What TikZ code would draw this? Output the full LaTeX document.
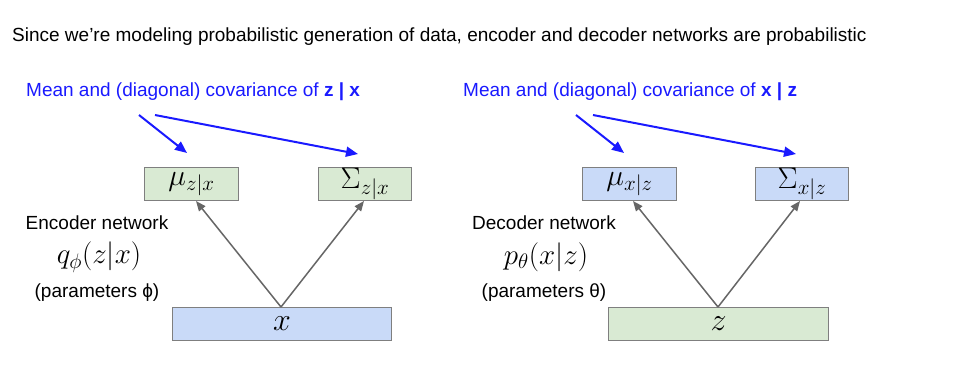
\RequirePackage{fix-cm}
\documentclass[tikz,border=0pt]{standalone}
\usepackage{fontspec}
\setmainfont{Liberation Sans}
\usetikzlibrary{arrows.meta}
\DeclareMathSizes{30}{30}{21}{15}
\DeclareMathSizes{29}{29}{21}{15}
\DeclareMathSizes{32}{32}{24}{18}
\definecolor{boxgreen}{HTML}{D9EAD3}
\definecolor{boxblue}{HTML}{C9DAF8}
\definecolor{boxedge}{HTML}{7F7F7F}
\definecolor{lblblue}{HTML}{1A1AFF}
\definecolor{arrgray}{HTML}{666666}
\begin{document}
\begin{tikzpicture}[x=1pt,y=-1pt,
  gbox/.style={draw=boxedge,line width=1pt,fill=boxgreen,inner sep=0pt,anchor=north west},
  bbox/.style={draw=boxedge,line width=1pt,fill=boxblue,inner sep=0pt,anchor=north west},
  bluearr/.style={draw=lblblue,line width=2pt,-{Triangle[length=12pt,width=10pt]}},
  grayarr/.style={draw=arrgray,line width=1.5pt,-{Triangle[length=10pt,width=8pt]}},
  txt/.style={inner sep=0pt,font=\fontsize{19}{23}\selectfont},
  bl/.style={txt,text=lblblue,anchor=west},
  mth/.style={inner sep=0pt,font=\fontsize{29}{33}\selectfont},
  bxm/.style={inner sep=0pt,font=\fontsize{30}{34}\selectfont},
  bm/.style={inner sep=0pt,font=\fontsize{32}{36}\selectfont}]
\useasboundingbox[fill=white] (0,0) rectangle (966,376);
% title
\node[txt,anchor=west] (title) at (12,37) {Since we’re modeling probabilistic generation of data, encoder and decoder networks are probabilistic};
% left side
\node[bl] (lblL) at (26,92) {Mean and (diagonal) covariance of \textbf{z | x}};
\node[gbox,minimum width=94pt,minimum height=33pt] (muL) at (144,167) {};
\node[bxm] at (muL.center) {$\mu_{z|x}$};
\node[gbox,minimum width=93pt,minimum height=33pt] (sgL) at (318,167) {};
\node[bxm] at (sgL.center) {$\Sigma_{z|x}$};
\node[bbox,minimum width=219pt,minimum height=33pt] (xB) at (172,307) {};
\node[bm] at (xB.center) {$x$};
\node[txt] (encT) at (97,223) {Encoder network};
\node[mth] (encQ) at (99,257) {$q_\phi(z|x)$};
\node[txt] (encP) at (97,293) {(parameters ϕ)};
\coordinate (aL1) at (139,115);
\coordinate (aL2) at (155,115);
\coordinate (tL1) at (187,153);
\coordinate (tL2) at (358,154);
\draw[bluearr] (aL1) -- (tL1);
\draw[bluearr] (aL2) -- (tL2);
\coordinate (xs) at (281,307);
\coordinate (muLt) at (196,201);
\coordinate (sgLt) at (364,201);
\draw[grayarr] (xs) -- (muLt);
\draw[grayarr] (xs) -- (sgLt);
% right side
\node[bl] (lblR) at (463,92) {Mean and (diagonal) covariance of \textbf{x | z}};
\node[bbox,minimum width=94pt,minimum height=33pt] (muR) at (582,167) {};
\node[bxm] at (muR.center) {$\mu_{x|z}$};
\node[bbox,minimum width=93pt,minimum height=33pt] (sgR) at (755,167) {};
\node[bxm] at (sgR.center) {$\Sigma_{x|z}$};
\node[gbox,minimum width=220pt,minimum height=33pt] (zB) at (608,307) {};
\node[bm] at (zB.center) {$z$};
\node[txt] (decT) at (544,223) {Decoder network};
\node[mth] (decQ) at (546,257) {$p_\theta(x|z)$};
\node[txt] (decP) at (544,293) {(parameters θ)};
\coordinate (aR1) at (576,115);
\coordinate (aR2) at (593,115);
\coordinate (tR1) at (624,153);
\coordinate (tR2) at (796,154);
\draw[bluearr] (aR1) -- (tR1);
\draw[bluearr] (aR2) -- (tR2);
\coordinate (zs) at (718,307);
\coordinate (muRt) at (633,201);
\coordinate (sgRt) at (800,201);
\draw[grayarr] (zs) -- (muRt);
\draw[grayarr] (zs) -- (sgRt);
\end{tikzpicture}
\end{document}
